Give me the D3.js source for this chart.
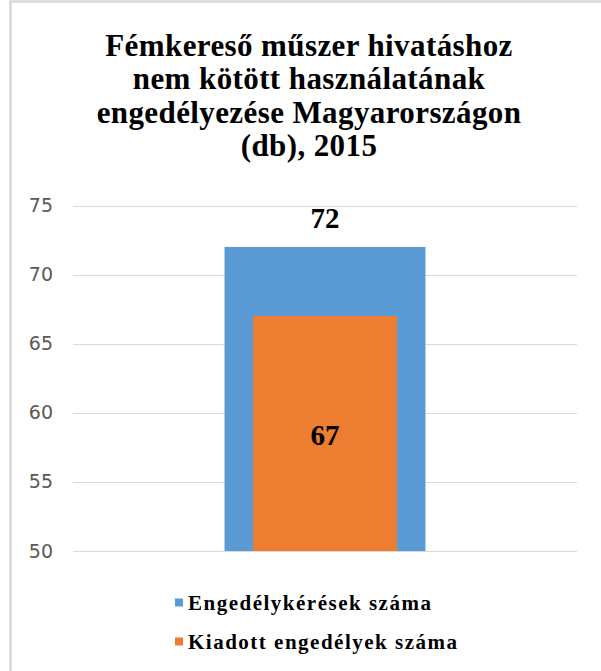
<!DOCTYPE html>
<html>
<head>
<meta charset="utf-8">
<script src="https://cdn.jsdelivr.net/npm/d3@7"></script>
<style>
  body { margin: 0; background: #fff; }
</style>
</head>
<body>
<div id="chart"></div>
<script>
// data
const titleLines = ["Fémkereső műszer hivatáshoz", "nem kötött használatának", "engedélyezése Magyarországon", "(db), 2015"]
const categories = ["2015"]
const seriesNames = ["Engedélykérések száma", "Kiadott engedélyek száma"]
const requests = [72]
const issued = [67]
const yTicks = [50, 55, 60, 65, 70, 75]
const colors = ["#5B9BD5", "#ED7D31"]

// dimensions
const width = 601, height = 671
const margin = { top: 205.5, right: 24, bottom: 120, left: 73 }

const svg = d3.select("#chart").append("svg")
  .attr("width", width)
  .attr("height", height)

// chart frame (only top & left edges are visible in the crop)
svg.append("rect")
  .attr("x", 10.5).attr("y", 1.5)
  .attr("width", 620).attr("height", 700)
  .attr("fill", "none")
  .attr("stroke", "#d9d9d9")
  .attr("stroke-width", 2.5)

const serif = "'Liberation Serif', 'Times New Roman', serif"

// title
svg.append("text")
  .attr("text-anchor", "middle")
  .style("font-family", serif)
  .style("font-weight", "bold")
  .style("font-size", "31px")
  .style("letter-spacing", "0.4px")
  .attr("fill", "#000")
  .selectAll("tspan")
  .data(titleLines)
  .enter().append("tspan")
  .attr("x", 309)
  .attr("y", (d, i) => 56 + i * 33.3)
  .text(d => d)

const y = d3.scaleLinear()
  .domain([50, 75])
  .range([height - margin.bottom, margin.top])

const xOuter = d3.scaleBand()
  .domain(categories)
  .range([margin.left, width - margin.right])
  .paddingInner(0).paddingOuter(0.754)

const xInner = d3.scaleBand()
  .domain(categories)
  .range([margin.left, width - margin.right])
  .paddingInner(0).paddingOuter(1.25)

// gridlines
svg.append("g")
  .selectAll("line")
  .data(yTicks)
  .enter().append("line")
  .attr("x1", margin.left)
  .attr("x2", width - margin.right)
  .attr("y1", d => Math.round(y(d)) + 0.5)
  .attr("y2", d => Math.round(y(d)) + 0.5)
  .attr("stroke", "#d9d9d9")
  .attr("stroke-width", 1.2)

// y axis labels
const yAxis = d3.axisLeft(y).tickValues(yTicks).tickSize(0).tickPadding(0)
const gy = svg.append("g")
  .attr("transform", `translate(53, 0)`)
  .call(yAxis)
gy.select(".domain").remove()
gy.selectAll("text")
  .style("font-family", "'DejaVu Sans', sans-serif")
  .style("font-size", "19px")
  .attr("fill", "#595959")

// bars
svg.selectAll(".bar-req")
  .data(requests)
  .enter().append("rect")
  .attr("class", "bar-req")
  .attr("x", (d, i) => xOuter(categories[i]))
  .attr("width", xOuter.bandwidth())
  .attr("y", d => y(d))
  .attr("height", d => y(50) - y(d))
  .attr("fill", colors[0])

svg.selectAll(".bar-iss")
  .data(issued)
  .enter().append("rect")
  .attr("class", "bar-iss")
  .attr("x", (d, i) => xInner(categories[i]))
  .attr("width", xInner.bandwidth())
  .attr("y", d => y(d))
  .attr("height", d => y(50) - y(d))
  .attr("fill", colors[1])

// data labels
svg.selectAll(".lbl-req")
  .data(requests)
  .enter().append("text")
  .attr("x", (d, i) => xOuter(categories[i]) + xOuter.bandwidth() / 2)
  .attr("y", d => y(d) - 19)
  .attr("text-anchor", "middle")
  .style("font-family", serif)
  .style("font-weight", "bold")
  .style("font-size", "29px")
  .text(d => d)

svg.selectAll(".lbl-iss")
  .data(issued)
  .enter().append("text")
  .attr("x", (d, i) => xInner(categories[i]) + xInner.bandwidth() / 2)
  .attr("y", d => (y(d) + y(50)) / 2 + 11)
  .attr("text-anchor", "middle")
  .style("font-family", serif)
  .style("font-weight", "bold")
  .style("font-size", "29px")
  .text(d => d)

// legend
const legend = svg.append("g")
  .selectAll("g")
  .data(seriesNames)
  .enter().append("g")
  .attr("transform", (d, i) => `translate(175, ${603 + i * 39})`)

legend.append("rect")
  .attr("x", 0).attr("y", -4.5)
  .attr("width", 8).attr("height", 8)
  .attr("fill", (d, i) => colors[i])

legend.append("text")
  .attr("x", 13)
  .attr("y", 7)
  .style("font-family", serif)
  .style("font-weight", "bold")
  .style("font-size", "21px")
  .style("letter-spacing", "1.5px")
  .text(d => d)
</script>
</body>
</html>
